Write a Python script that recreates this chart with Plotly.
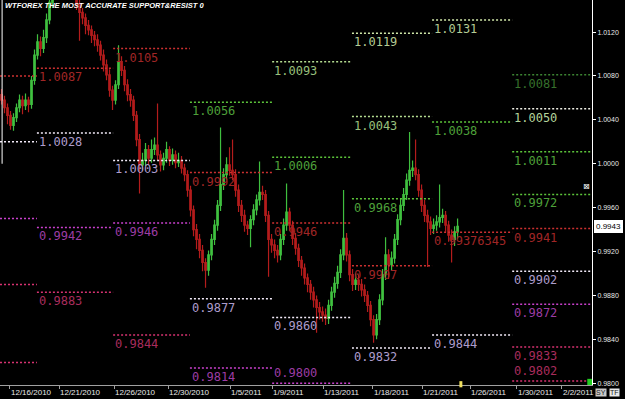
import plotly.graph_objects as go

# ---------------- data ----------------
open_ = [
1.0063, 1.0058, 1.0051, 1.0044, 1.0035, 1.0042, 1.0051, 1.0058, 1.0053, 1.0058,
1.0054, 1.0076, 1.0099, 1.0111, 1.0105, 1.0115, 1.0131, 1.0147, 1.0158, 1.0166,
1.0172, 1.0165, 1.0170, 1.0162, 1.0168, 1.0158, 1.0145, 1.0138, 1.0133, 1.0126,
1.0122, 1.0117, 1.0113, 1.0108, 1.0099, 1.0090, 1.0081, 1.0067, 1.0058, 1.0072,
1.0093, 1.0085, 1.0072, 1.0063, 1.0058, 1.0044, 1.0022, 0.9999, 1.0003, 1.0013,
1.0005, 1.0013, 1.0017, 1.0008, 0.9999, 1.0005, 1.0013, 1.0003, 1.0008, 1.0001,
1.0003, 0.9996, 0.9990, 0.9976, 0.9958, 0.9940, 0.9931, 0.9921, 0.9910, 0.9903,
0.9917, 0.9931, 0.9944, 0.9962, 0.9981, 0.9990, 0.9999, 0.9994, 0.9990, 0.9976,
0.9962, 0.9953, 0.9944, 0.9941, 0.9949, 0.9958, 0.9967, 0.9974, 0.9972, 0.9953,
0.9931, 0.9926, 0.9921, 0.9917, 0.9931, 0.9944, 0.9956, 0.9944, 0.9932, 0.9923,
0.9912, 0.9905, 0.9896, 0.9890, 0.9883, 0.9876, 0.9869, 0.9865, 0.9862, 0.9859,
0.9871, 0.9883, 0.9891, 0.9901, 0.9917, 0.9932, 0.9917, 0.9899, 0.9890, 0.9894,
0.9890, 0.9885, 0.9880, 0.9871, 0.9858, 0.9844, 0.9858, 0.9876, 0.9899, 0.9917,
0.9908, 0.9914, 0.9931, 0.9949, 0.9962, 0.9972, 0.9985, 0.9994, 0.9996, 0.9990,
0.9976, 0.9962, 0.9953, 0.9947, 0.9941, 0.9944, 0.9947, 0.9951, 0.9953, 0.9944,
0.9935, 0.9931, 0.9938]

high = [
1.0068, 1.0062, 1.0055, 1.0048, 1.0046, 1.0055, 1.0063, 1.0062, 1.0064, 1.0061,
1.0080, 1.0104, 1.0118, 1.0116, 1.0122, 1.0137, 1.0155, 1.0164, 1.0172, 1.0178,
1.0176, 1.0175, 1.0174, 1.0173, 1.0172, 1.0162, 1.0150, 1.0142, 1.0137, 1.0131,
1.0126, 1.0121, 1.0118, 1.0112, 1.0104, 1.0095, 1.0086, 1.0071, 1.0076, 1.0108,
1.0098, 1.0089, 1.0077, 1.0068, 1.0062, 1.0048, 1.0027, 1.0010, 1.0019, 1.0017,
1.0022, 1.0024, 1.0055, 1.0012, 1.0010, 1.0020, 1.0016, 1.0014, 1.0012, 1.0010,
1.0007, 1.0000, 0.9994, 0.9980, 0.9962, 0.9945, 0.9936, 0.9926, 0.9914, 0.9921,
0.9936, 0.9949, 0.9967, 1.0033, 0.9996, 1.0006, 1.0015, 1.0022, 0.9995, 0.9981,
0.9967, 0.9958, 0.9948, 0.9953, 0.9963, 0.9972, 1.0002, 0.9980, 0.9976, 0.9957,
0.9936, 0.9931, 0.9926, 0.9936, 0.9950, 0.9982, 0.9960, 0.9948, 0.9937, 0.9927,
0.9916, 0.9909, 0.9900, 0.9894, 0.9888, 0.9880, 0.9874, 0.9870, 0.9868, 0.9876,
0.9888, 0.9897, 0.9907, 0.9922, 0.9976, 0.9937, 0.9921, 0.9904, 0.9900, 0.9899,
0.9895, 0.9890, 0.9884, 0.9875, 0.9862, 0.9863, 0.9881, 0.9904, 0.9933, 0.9922,
0.9920, 0.9936, 0.9954, 0.9968, 0.9978, 0.9991, 1.0029, 1.0003, 1.0022, 0.9995,
0.9981, 0.9967, 0.9958, 0.9952, 0.9950, 0.9953, 0.9981, 0.9959, 0.9957, 0.9948,
0.9940, 0.9943, 0.9950]

low = [
1.0054, 1.0046, 1.0036, 1.0031, 1.0030, 1.0038, 1.0047, 1.0045, 1.0049, 1.0047,
1.0050, 1.0072, 1.0095, 1.0098, 1.0101, 1.0110, 1.0127, 1.0142, 1.0153, 1.0161,
1.0160, 1.0160, 1.0157, 1.0158, 1.0154, 1.0140, 1.0112, 1.0127, 1.0118, 1.0117,
1.0110, 1.0107, 1.0102, 1.0094, 1.0084, 1.0076, 1.0061, 1.0049, 1.0054, 1.0068,
1.0080, 1.0066, 1.0057, 1.0052, 1.0039, 1.0016, 0.9973, 0.9994, 0.9998, 0.9999,
1.0001, 1.0008, 1.0003, 0.9993, 0.9994, 1.0001, 0.9998, 0.9999, 0.9996, 0.9997,
0.9991, 0.9984, 0.9970, 0.9952, 0.9934, 0.9922, 0.9914, 0.9902, 0.9887, 0.9898,
0.9912, 0.9926, 0.9939, 0.9957, 0.9976, 0.9985, 0.9989, 0.9985, 0.9970, 0.9956,
0.9947, 0.9938, 0.9935, 0.9924, 0.9944, 0.9953, 0.9962, 0.9967, 0.9947, 0.9897,
0.9919, 0.9914, 0.9910, 0.9912, 0.9926, 0.9939, 0.9939, 0.9926, 0.9917, 0.9906,
0.9898, 0.9890, 0.9883, 0.9876, 0.9869, 0.9846, 0.9858, 0.9856, 0.9853, 0.9854,
0.9866, 0.9878, 0.9886, 0.9896, 0.9912, 0.9911, 0.9893, 0.9884, 0.9885, 0.9884,
0.9879, 0.9874, 0.9865, 0.9852, 0.9837, 0.9840, 0.9853, 0.9871, 0.9894, 0.9895,
0.9903, 0.9909, 0.9926, 0.9944, 0.9957, 0.9967, 0.9980, 0.9988, 0.9985, 0.9970,
0.9956, 0.9947, 0.9906, 0.9935, 0.9936, 0.9939, 0.9942, 0.9946, 0.9938, 0.9929,
0.9910, 0.9925, 0.9932]

close = [
1.0058, 1.0051, 1.0044, 1.0035, 1.0042, 1.0051, 1.0058, 1.0053, 1.0058, 1.0054,
1.0076, 1.0099, 1.0111, 1.0105, 1.0115, 1.0131, 1.0147, 1.0158, 1.0166, 1.0172,
1.0165, 1.0170, 1.0162, 1.0168, 1.0158, 1.0145, 1.0138, 1.0133, 1.0126, 1.0122,
1.0117, 1.0113, 1.0108, 1.0099, 1.0090, 1.0081, 1.0067, 1.0058, 1.0072, 1.0093,
1.0085, 1.0072, 1.0063, 1.0058, 1.0044, 1.0022, 0.9999, 1.0003, 1.0013, 1.0005,
1.0013, 1.0017, 1.0008, 0.9999, 1.0005, 1.0013, 1.0003, 1.0008, 1.0001, 1.0003,
0.9996, 0.9990, 0.9976, 0.9958, 0.9940, 0.9931, 0.9921, 0.9910, 0.9903, 0.9917,
0.9931, 0.9944, 0.9962, 0.9981, 0.9990, 0.9999, 0.9994, 0.9990, 0.9976, 0.9962,
0.9953, 0.9944, 0.9941, 0.9949, 0.9958, 0.9967, 0.9974, 0.9972, 0.9953, 0.9931,
0.9926, 0.9921, 0.9917, 0.9931, 0.9944, 0.9956, 0.9944, 0.9932, 0.9923, 0.9912,
0.9905, 0.9896, 0.9890, 0.9883, 0.9876, 0.9869, 0.9865, 0.9862, 0.9859, 0.9871,
0.9883, 0.9891, 0.9901, 0.9917, 0.9932, 0.9917, 0.9899, 0.9890, 0.9894, 0.9890,
0.9885, 0.9880, 0.9871, 0.9858, 0.9844, 0.9858, 0.9876, 0.9899, 0.9917, 0.9908,
0.9914, 0.9931, 0.9949, 0.9962, 0.9972, 0.9985, 0.9994, 0.9996, 0.9990, 0.9976,
0.9962, 0.9953, 0.9947, 0.9941, 0.9944, 0.9947, 0.9951, 0.9953, 0.9944, 0.9935,
0.9931, 0.9938, 0.9943]

bars = list(range(len(close)))

# date ticks (bar index where each date label starts)
date_bars = [2.8, 19.2, 37.5, 55.5, 76.2, 90.2, 107.2, 123.8, 140.2, 156.2, 171.8, 186.8]
date_labels = ["12/16/2010", "12/21/2010", "12/26/2010", "12/30/2010", "1/5/2011", "1/9/2011",
               "1/13/2011", "1/18/2011", "1/21/2011", "1/26/2011", "1/30/2011", "2/2/2011"]

# weekly support / resistance columns (bar index boundaries)
week_bounds = [-0.5, 11.8, 37.2, 62.8, 90.2, 116.8, 143.5, 170.2, 196.8]

level_week = [0, 0, 0, 0, 0,
              1, 1, 1, 1,
              2, 2, 2, 2,
              3, 3, 3, 3,
              4, 4, 4, 4, 4,
              5, 5, 5, 5, 5,
              6, 6, 6, 6,
              7, 7, 7, 7, 7, 7, 7, 7, 7]
level_value = [1.0080, 1.0020, 0.9950, 0.9890, 0.9819,
               1.0087, 1.0028, 0.9942, 0.9883,
               1.0105, 1.0003, 0.9946, 0.9844,
               1.0056, 0.9992, 0.9877, 0.9814,
               1.0093, 1.0006, 0.9946, 0.9860, 0.9800,
               1.0119, 1.0043, 0.9968, 0.9907, 0.9832,
               1.0131, 1.0038, 0.99376345, 0.9844,
               1.0081, 1.0050, 1.0011, 0.9972, 0.9941, 0.9902, 0.9872, 0.9833, 0.9802]
level_label = ["", "", "", "", "",
               "1.0087", "1.0028", "0.9942", "0.9883",
               "1.0105", "1.0003", "0.9946", "0.9844",
               "1.0056", "0.9992", "0.9877", "0.9814",
               "1.0093", "1.0006", "0.9946", "0.9860", "0.9800",
               "1.0119", "1.0043", "0.9968", "0.9907", "0.9832",
               "1.0131", "1.0038", "0.99376345", "0.9844",
               "1.0081", "1.0050", "1.0011", "0.9972", "0.9941", "0.9902", "0.9872", "0.9833", "0.9802"]
level_kind = ["p", "s1", "s2", "s3", "s3",
              "p", "s1", "s2", "s3",
              "p", "s1", "s2", "s3",
              "r1", "p", "s1", "s2",
              "r2", "r1", "p", "s1", "s2",
              "r3", "r2", "r1", "p", "s1",
              "r3", "r1", "p", "s1",
              "dg", "r2w", "r1", "r1", "p", "s1", "s2", "s3", "s3"]

current_price = 0.9943

# ---------------- styles ----------------
kind_style = {
    "r3":  ("#cfe6a8", "#b4cc94"),
    "r2":  ("#b4dc90", "#98c07c"),
    "r2w": ("#f0f0e6", "#b4d49c"),
    "r1":  ("#5cc43a", "#4ea03a"),
    "dg":  ("#3c8432", "#36702c"),
    "p":   ("#cc3030", "#a02626"),
    "s1":  ("#f2eaf8", "#ad9ccc"),
    "s2":  ("#c840cc", "#9c3ca4"),
    "s3":  ("#d63270", "#a82c5c"),
}

fig = go.Figure()

fig.add_trace(go.Candlestick(
    x=bars, open=open_, high=high, low=low, close=close,
    increasing=dict(line=dict(color="#3fbf3f", width=1.2), fillcolor="#46c846"),
    decreasing=dict(line=dict(color="#b41c1c", width=1.2), fillcolor="#b41c1c"),
    whiskerwidth=0, showlegend=False, hoverinfo="skip",
))

# dotted level segments, one trace per colour class
for kind, (lc, tc) in kind_style.items():
    xs, ys = [], []
    for w, v, k in zip(level_week, level_value, level_kind):
        if k != kind:
            continue
        xs += [week_bounds[w], week_bounds[w + 1], None]
        ys += [v, v, None]
    if xs:
        fig.add_trace(go.Scatter(x=xs, y=ys, mode="lines",
                                 line=dict(color=lc, width=1.5, dash="2px,2px"),
                                 showlegend=False, hoverinfo="skip"))

y_bottom = 0.97984
annotations = []
for w, v, k, t in zip(level_week, level_value, level_kind, level_label):
    if not t:
        continue
    # labels of levels sitting on the bottom edge go above their line
    below_edge = (v - y_bottom) < 0.0006
    annotations.append(dict(
        x=week_bounds[w], y=v, xref="x", yref="y", text=t, showarrow=False,
        xanchor="left", yanchor="bottom" if below_edge else "top",
        xshift=0, yshift=1 if below_edge else 0,
        font=dict(family="DejaVu Sans Mono", size=12, color=kind_style[k][1]),
    ))

for b, lab in zip(date_bars, date_labels):
    annotations.append(dict(
        x=b, y=0, xref="x", yref="paper", text=lab, showarrow=False,
        xanchor="left", yanchor="top", xshift=-1, yshift=-1,
        font=dict(family="Liberation Sans Narrow, Arial Narrow, Arial", size=8, color="#e8e8e8"),
    ))

annotations.append(dict(
    x=0, y=1, xref="paper", yref="paper", xanchor="left", yanchor="top",
    xshift=3, yshift=1, showarrow=False,
    text="<b><i>WTFOREX THE MOST ACCURATE SUPPORT&amp;RESIST 0</i></b>",
    font=dict(family="Arial", size=7.5, color="#ffffff"),
))

annotations.append(dict(
    x=1, y=current_price, xref="paper", yref="y", xanchor="left", yanchor="middle",
    xshift=2, showarrow=False, text=f"{current_price:.4f}",
    bgcolor="#ffffff", bordercolor="#ffffff", borderpad=1,
    font=dict(family="Arial", size=8, color="#000000"),
))
annotations.append(dict(
    x=1, y=0, xref="paper", yref="paper", xanchor="left", yanchor="top",
    xshift=3, yshift=-3, showarrow=False, text="SY",
    bgcolor="#c8c8c8", borderpad=0,
    font=dict(family="Arial", size=7, color="#202020"),
))
annotations.append(dict(
    x=1, y=0, xref="paper", yref="paper", xanchor="left", yanchor="top",
    xshift=17, yshift=-3, showarrow=False, text="TF",
    bgcolor="#e8e8e8", borderpad=0,
    font=dict(family="Arial", size=7, color="#202020"),
))
annotations.append(dict(
    x=1, y=0.99797, xref="paper", yref="y", xanchor="right", yanchor="middle",
    xshift=0, showarrow=False, text="⊠",
    font=dict(family="DejaVu Sans", size=8, color="#ffffff"),
))

shapes = [
    dict(type="line", xref="x", yref="y", x0=0.2, x1=0.2, y0=1.0000, y1=1.0150,
         line=dict(color="#ffffff", width=1)),
    dict(type="rect", xref="paper", yref="paper", x0=0.992, x1=1.0, y0=0.0, y1=0.016,
         fillcolor="#22cc22", line=dict(width=0)),
    dict(type="rect", xref="paper", yref="paper", x0=0.776, x1=0.781, y0=-0.006, y1=0.01,
         fillcolor="#f0e060", line=dict(width=0)),
]

fig.update_layout(
    width=625, height=399,
    margin=dict(l=0, r=33, t=0, b=14),
    paper_bgcolor="#000000", plot_bgcolor="#000000",
    showlegend=False,
    annotations=annotations,
    shapes=shapes,
    xaxis=dict(range=[-0.5, 196.8], rangeslider=dict(visible=False),
               showgrid=False, zeroline=False,
               showline=True, linecolor="#a0a0a0", linewidth=1,
               tickmode="array", tickvals=date_bars, ticks="outside", ticklen=3,
               tickcolor="#a0a0a0", showticklabels=False),
    yaxis=dict(range=[y_bottom, 1.01492], side="right",
               showgrid=False, zeroline=False,
               showline=True, linecolor="#ffffff", linewidth=1,
               tickmode="array",
               tickvals=[0.9800, 0.9840, 0.9880, 0.9920, 0.9960, 1.0000, 1.0040, 1.0080, 1.0120],
               tickformat=".4f", ticks="outside", ticklen=3, tickcolor="#ffffff",
               tickfont=dict(family="Arial", size=7, color="#e8e8e8")),
)

fig.write_html("out.html")
